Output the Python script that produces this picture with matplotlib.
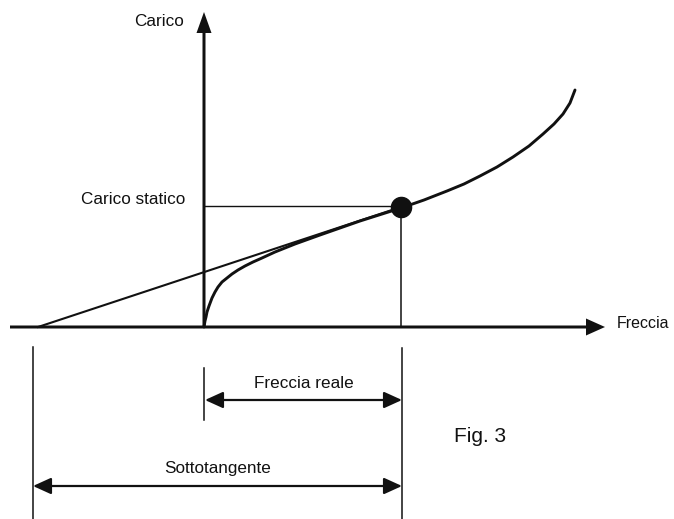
import matplotlib
matplotlib.use("Agg")
import matplotlib.pyplot as plt

plt.rcParams['font.family'] = ['Liberation Sans', 'DejaVu Sans']

# ---- data (diagram units: origin at axes intersection) ----
curve_x = [0, 1, 2, 3, 5, 8, 11, 14, 18, 23, 28, 34, 41, 49, 58, 71, 91, 116, 156, 197,
           220, 243, 260, 276, 293, 309, 325, 339, 350, 359, 366, 371]
curve_y = [0, 6, 10, 15, 21, 29, 35, 40, 45, 49, 53, 57, 61, 65, 69, 75, 83, 92, 106, 119,
           127, 136, 143, 151, 160, 170, 181, 193, 203, 213, 224, 237]
point_x, point_y = 197, 120          # carico statico / freccia reale
tangent_x0 = -166                     # tangent intercept on the x axis
sub_left = -171                       # left end of "Sottotangente"
labels = {"y": "Carico", "x": "Freccia", "static": "Carico statico",
          "real": "Freccia reale", "sub": "Sottotangente", "fig": "Fig. 3"}

ink = "#111111"

fig = plt.figure(figsize=(6.74, 5.19), dpi=100)
ax = fig.add_axes([0, 0, 1, 1])
ax.set_xlim(-204, 470)
ax.set_ylim(-192, 327)
ax.axis("off")

# axes with arrowheads
ax.arrow(-194, 0, 401 + 194, 0, width=3, head_width=17, head_length=19,
         length_includes_head=True, fc=ink, ec="none", zorder=3)
ax.arrow(0, 0, 0, 315, width=3, head_width=15, head_length=21,
         length_includes_head=True, fc=ink, ec="none", zorder=3)

# load-deflection curve
ax.plot(curve_x, curve_y, color=ink, lw=2.1, solid_capstyle="round",
        solid_joinstyle="round", zorder=4)

# tangent line
ax.plot([tangent_x0, point_x], [0, point_y], color=ink, lw=1.5, zorder=4)

# static load guides
ax.plot([0, point_x], [point_y + 1, point_y + 1], color=ink, lw=1.0, zorder=2)
ax.plot([point_x, point_x], [0, point_y], color=ink, lw=1.1, zorder=2)
ax.plot([point_x], [point_y], "o", color=ink, ms=14.5, zorder=5)

# dimension lines
ax.plot([sub_left, sub_left], [-20, -192], color=ink, lw=1.1)
ax.plot([point_x + 1, point_x + 1], [-21, -192], color=ink, lw=1.1)
ax.plot([0, 0], [-41, -93], color=ink, lw=1.1)

arrow_kw = dict(arrowstyle="<|-|>,head_length=1.1,head_width=0.5", color=ink,
                lw=1.6, shrinkA=0, shrinkB=0)
ax.annotate("", xy=(1, -73), xytext=(point_x + 1, -73), arrowprops=arrow_kw)
ax.annotate("", xy=(sub_left, -159), xytext=(point_x + 1, -159), arrowprops=arrow_kw)

# texts
fs = 12.3
ax.text(-20, 305, labels["y"], ha="right", va="center", fontsize=fs, color=ink)
ax.text(413, 4, labels["x"], ha="left", va="center", fontsize=11.5, color=ink)
ax.text(-19, 127, labels["static"], ha="right", va="center", fontsize=fs, color=ink)
ax.text(100, -56, labels["real"], ha="center", va="center", fontsize=fs, color=ink)
ax.text(14, -142, labels["sub"], ha="center", va="center", fontsize=fs, color=ink)
ax.text(276, -110, labels["fig"], ha="center", va="center", fontsize=15, color=ink)

fig.savefig("out.png", dpi=100, facecolor="white")
